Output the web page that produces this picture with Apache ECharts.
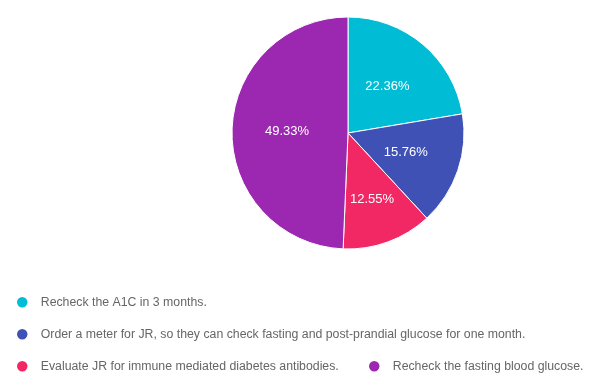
<!DOCTYPE html>
<html>
<head>
<meta charset="utf-8">
<script src="https://cdn.jsdelivr.net/npm/echarts@6/dist/echarts.min.js"></script>
<style>html,body{margin:0;padding:0;background:#fff}#c{width:593px;height:388px}</style>
</head>
<body>
<div id="c"></div>
<script>
const categories = [
  "Recheck the A1C in 3 months.",
  "Order a meter for JR, so they can check fasting and post-prandial glucose for one month.",
  "Evaluate JR for immune mediated diabetes antibodies.",
  "Recheck the fasting blood glucose."
];
const values = [22.36, 15.76, 12.55, 49.33];
const colors = ["#00BCD4", "#3F51B5", "#F22865", "#9C27B0"];

const legendText = { color: '#666', fontSize: 12.3, lineHeight: 14, fontFamily: 'Liberation Sans, Arial, sans-serif' };
const chart = echarts.init(document.getElementById('c'));
chart.setOption({
  animation: false,
  color: colors,
  legend: [{
    orient: 'vertical',
    left: 10,
    top: 290,
    itemWidth: 27,
    itemHeight: 12.5,
    itemGap: 17.5,
    icon: 'circle',
    textStyle: legendText,
    data: categories.slice(0, 3)
  }, {
    orient: 'horizontal',
    left: 362,
    top: 354,
    itemWidth: 27,
    itemHeight: 12.5,
    icon: 'circle',
    textStyle: legendText,
    data: categories.slice(3)
  }],
  series: [{
    type: 'pie',
    center: [348, 133],
    radius: 116,
    startAngle: 90,
    clockwise: true,
    itemStyle: { borderColor: '#fff', borderWidth: 1 },
    label: {
      position: 'inside',
      formatter: '{d}%',
      color: '#fff',
      fontSize: 13,
      fontFamily: 'Liberation Sans, Arial, sans-serif'
    },
    labelLine: { show: false },
    data: categories.map((n, i) => {
      const d = { name: n, value: values[i] };
      if (i === 2) d.label = { offset: [3, 9] };
      return d;
    })
  }]
});
</script>
</body>
</html>
